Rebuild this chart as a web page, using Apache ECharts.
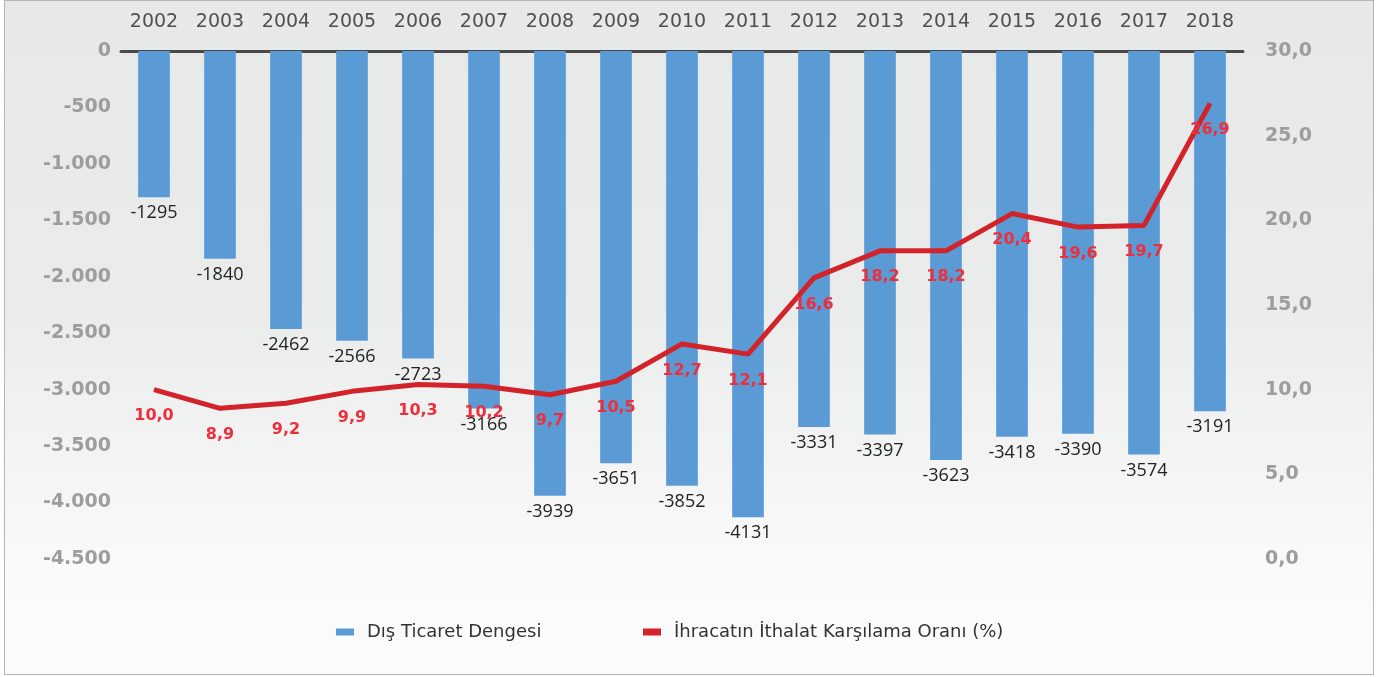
<!DOCTYPE html>
<html>
<head>
<meta charset="utf-8">
<script src="https://cdn.jsdelivr.net/npm/echarts@6/dist/echarts.min.js"></script>
<style>
  html, body { margin: 0; padding: 0; background: #fff; }
  #chart {
    position: absolute; left: 4px; top: 0; width: 1370px; height: 675px;
    border: 1px solid #b5b5b5; box-sizing: border-box;
    background: linear-gradient(to bottom, #e7e8e8 0%, #eaebeb 45%, #fafafa 85%, #fcfcfc 100%);
  }
</style>
</head>
<body>
<div id="chart"></div>
<script>
const years = ['2002', '2003', '2004', '2005', '2006', '2007', '2008', '2009', '2010',
  '2011', '2012', '2013', '2014', '2015', '2016', '2017', '2018'];
const tradeBalance = [-1295, -1840, -2462, -2566, -2723, -3166, -3939, -3651, -3852,
  -4131, -3331, -3397, -3623, -3418, -3390, -3574, -3191];
const coverageRatio = [10.0, 8.9, 9.2, 9.9, 10.3, 10.2, 9.7, 10.5, 12.7,
  12.1, 16.6, 18.2, 18.2, 20.4, 19.6, 19.7, 26.9];
const seriesNames = ['Dış Ticaret Dengesi', 'İhracatın İthalat Karşılama Oranı (%)'];

const chart = echarts.init(document.getElementById('chart'));

// 1.500 style thousands, 10,0 style decimals
const fmtLeft = v => {
  const s = Math.abs(v).toString().replace(/\B(?=(\d{3})+(?!\d))/g, '.');
  return (v < 0 ? '-' : '') + s;
};
const fmtRight = v => v.toFixed(1).replace('.', ',');

const axisFont = { fontFamily: 'DejaVu Sans', fontSize: 19, fontWeight: 'bold', color: '#9d9d9d' };

// one legend box per series so each can sit where the original has it
const legendBox = (name, left) => ({
  top: 617,
  left: left,
  itemWidth: 18,
  itemHeight: 7,
  textStyle: { fontFamily: 'DejaVu Sans', fontSize: 18, color: '#333', padding: [0, 0, 0, 8] },
  data: [{ name: name, icon: 'rect' }]
});

chart.setOption({
  animation: false,
  grid: { left: 116, right: 130, top: 50, bottom: 115 },
  legend: [legendBox(seriesNames[0], 326), legendBox(seriesNames[1], 633)],
  xAxis: {
    type: 'category',
    position: 'top',
    data: years,
    axisLine: { lineStyle: { color: '#4a4a4a', width: 3 } },
    axisTick: { length: 6, lineStyle: { color: '#4a4a4a', width: 3 } },
    axisLabel: { fontFamily: 'DejaVu Sans', fontSize: 19, color: '#505050', margin: 19 }
  },
  yAxis: [
    {
      type: 'value',
      min: -4500, max: 0, interval: 500,
      splitLine: { show: false },
      axisLine: { show: false },
      axisLabel: Object.assign({ formatter: fmtLeft, margin: 10 }, axisFont)
    },
    {
      type: 'value',
      min: 0, max: 30, interval: 5,
      splitLine: { show: false },
      axisLine: { show: false },
      axisLabel: Object.assign({ formatter: fmtRight, margin: 22 }, axisFont)
    }
  ],
  series: [
    {
      name: seriesNames[0],
      type: 'bar',
      data: tradeBalance,
      barWidth: '48%',
      itemStyle: { color: '#5b9bd5' },
      label: {
        show: true, position: 'bottom', distance: 7,
        fontFamily: 'Open Sans', fontSize: 18, color: '#222'
      }
    },
    {
      name: seriesNames[1],
      type: 'line',
      yAxisIndex: 1,
      data: coverageRatio,
      symbol: 'circle',
      symbolSize: 1,
      showSymbol: true,
      lineStyle: { color: '#d2232a', width: 5 },
      itemStyle: { color: '#d2232a' },
      label: {
        show: true, position: 'bottom', distance: 18,
        fontFamily: 'DejaVu Sans', fontSize: 16, fontWeight: 'bold', color: '#ee2e3a',
        formatter: p => fmtRight(p.value)
      },
      labelLayout: { hideOverlap: false },
      z: 5
    }
  ]
});
</script>
</body>
</html>
